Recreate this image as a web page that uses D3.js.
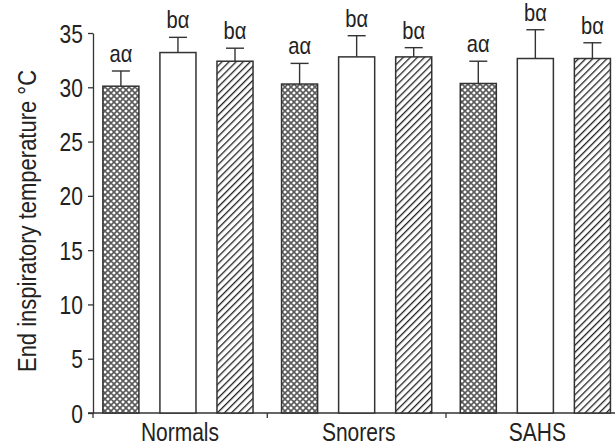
<!DOCTYPE html>
<html>
<head>
<meta charset="utf-8">
<script src="https://cdn.jsdelivr.net/npm/d3@7"></script>
<style>
  body { margin: 0; background: #fff; }
  text { font-family: "Liberation Sans", Arial, sans-serif; fill: #222; }
</style>
</head>
<body>
<div id="plot"></div>
<script>
// groups and conditions
const groups = ["Normals", "Snorers", "SAHS"];
const conditions = ["c1", "c2", "c3"];
// mean end inspiratory temperature per group (condition order c1, c2, c3)
const normalsMean = [30.1, 33.2, 32.4];
const snorersMean = [30.3, 32.8, 32.8];
const sahsMean = [30.35, 32.65, 32.65];
// upper error (SD)
const normalsErr = [1.4, 1.4, 1.2];
const snorersErr = [1.9, 1.95, 0.85];
const sahsErr = [2.05, 2.65, 1.45];
// significance letters
const sigLabels = ["a\u03b1", "b\u03b1", "b\u03b1"];
const yTicks = [0, 5, 10, 15, 20, 25, 30, 35];

const means = [normalsMean, snorersMean, sahsMean];
const errs = [normalsErr, snorersErr, sahsErr];

const data = [];
groups.forEach((g, i) => {
    conditions.forEach((c, j) => {
        data.push({group: g, cond: c, mean: means[i][j], err: errs[i][j], label: sigLabels[j]});
    });
});

const W = 615, H = 445;
const axisX = 93;
const narrow = 0.84; // squeeze text to look like a condensed face

const svg = d3.select("#plot")
    .append("svg")
    .attr("width", W)
    .attr("height", H);

// patterns
const defs = svg.append("defs");
const cross = defs.append("pattern")
    .attr("id", "cross")
    .attr("patternUnits", "userSpaceOnUse")
    .attr("width", 6)
    .attr("height", 6);
cross.append("rect").attr("width", 6).attr("height", 6).attr("fill", "#fff");
cross.append("path")
    .attr("d", "M0,0 L6,6 M6,0 L0,6 M-3,3 L3,-3 M3,9 L9,3 M-3,3 L3,9 M3,-3 L9,3")
    .attr("stroke", "#5a5a5a")
    .attr("stroke-width", 1.6);

const hatch = defs.append("pattern")
    .attr("id", "hatch")
    .attr("patternUnits", "userSpaceOnUse")
    .attr("width", 5)
    .attr("height", 5)
    .attr("patternTransform", "rotate(45)");
hatch.append("rect").attr("width", 5).attr("height", 5).attr("fill", "#fff");
hatch.append("line")
    .attr("x1", 0).attr("y1", 0).attr("x2", 0).attr("y2", 5)
    .attr("stroke", "#222")
    .attr("stroke-width", 2.6);

const fills = {c1: "url(#cross)", c2: "#fff", c3: "url(#hatch)"};

// scales
const x0 = d3.scaleBand()
    .domain(groups)
    .range([88.6, 88.6 + 3 * 178.7])
    .padding(0);

const x1 = d3.scaleBand()
    .domain(conditions)
    .range([0, x0.bandwidth()])
    .paddingInner(0.368)
    .paddingOuter(0.25);

const y = d3.scaleLinear()
    .domain([0, 35])
    .range([413, 33]);

// y axis
const yAxis = svg.append("g")
    .attr("transform", "translate(" + axisX + ",0)")
    .call(d3.axisLeft(y).tickValues(yTicks).tickSize(5).tickSizeOuter(0).tickPadding(7));
yAxis.select(".domain").attr("stroke", "#333").attr("stroke-width", 1.3);
yAxis.selectAll(".tick line").attr("stroke", "#333").attr("stroke-width", 1.3);
yAxis.selectAll(".tick text")
    .style("font-size", "25px")
    .attr("fill", "#222")
    .attr("dy", "0.36em")
    .attr("transform", "scale(" + narrow + ",1)");

// x axis
svg.append("line")
    .attr("x1", axisX - 5).attr("x2", W)
    .attr("y1", y(0)).attr("y2", y(0))
    .attr("stroke", "#333").attr("stroke-width", 1.3);

const xTickPos = [axisX].concat(groups.slice(1).map(g => x0(g)));
svg.selectAll(".xtick")
    .data(xTickPos)
    .enter()
    .append("line")
    .attr("class", "xtick")
    .attr("x1", d => d).attr("x2", d => d)
    .attr("y1", y(0)).attr("y2", y(0) + 5)
    .attr("stroke", "#333").attr("stroke-width", 1.3);

svg.selectAll(".xlabel")
    .data(groups)
    .enter()
    .append("text")
    .attr("class", "xlabel")
    .attr("transform", d => "translate(" + (x0(d) + x0.bandwidth() / 2 + 2) + ",441) scale(" + narrow + ",1)")
    .attr("text-anchor", "middle")
    .style("font-size", "25px")
    .text(d => d);

// y label
svg.append("text")
    .attr("transform", "translate(36,221) rotate(-90) scale(0.88,1)")
    .attr("text-anchor", "middle")
    .style("font-size", "25px")
    .text("End inspiratory temperature \u00b0C");

// error bars
const errG = svg.append("g");
errG.selectAll(".err")
    .data(data)
    .enter()
    .append("line")
    .attr("x1", d => x0(d.group) + x1(d.cond) + x1.bandwidth() / 2)
    .attr("x2", d => x0(d.group) + x1(d.cond) + x1.bandwidth() / 2)
    .attr("y1", d => y(d.mean))
    .attr("y2", d => y(d.mean + d.err))
    .attr("stroke", "#333").attr("stroke-width", 1.4);
errG.selectAll(".cap")
    .data(data)
    .enter()
    .append("line")
    .attr("x1", d => x0(d.group) + x1(d.cond) + x1.bandwidth() / 4)
    .attr("x2", d => x0(d.group) + x1(d.cond) + x1.bandwidth() * 3 / 4)
    .attr("y1", d => y(d.mean + d.err))
    .attr("y2", d => y(d.mean + d.err))
    .attr("stroke", "#333").attr("stroke-width", 1.4);

// bars
svg.append("g")
    .selectAll("rect")
    .data(data)
    .enter()
    .append("rect")
    .attr("x", d => x0(d.group) + x1(d.cond))
    .attr("y", d => y(d.mean))
    .attr("width", x1.bandwidth())
    .attr("height", d => y(0) - y(d.mean))
    .attr("fill", d => fills[d.cond])
    .attr("stroke", "#333")
    .attr("stroke-width", 1.5);

// significance labels
svg.append("g")
    .selectAll("text")
    .data(data)
    .enter()
    .append("text")
    .attr("transform", d => "translate(" + (x0(d.group) + x1(d.cond) + x1.bandwidth() / 2) + "," + (y(d.mean + d.err) - 9) + ") scale(" + narrow + ",1)")
    .attr("text-anchor", "middle")
    .style("font-size", "24px")
    .text(d => d.label);
</script>
</body>
</html>
